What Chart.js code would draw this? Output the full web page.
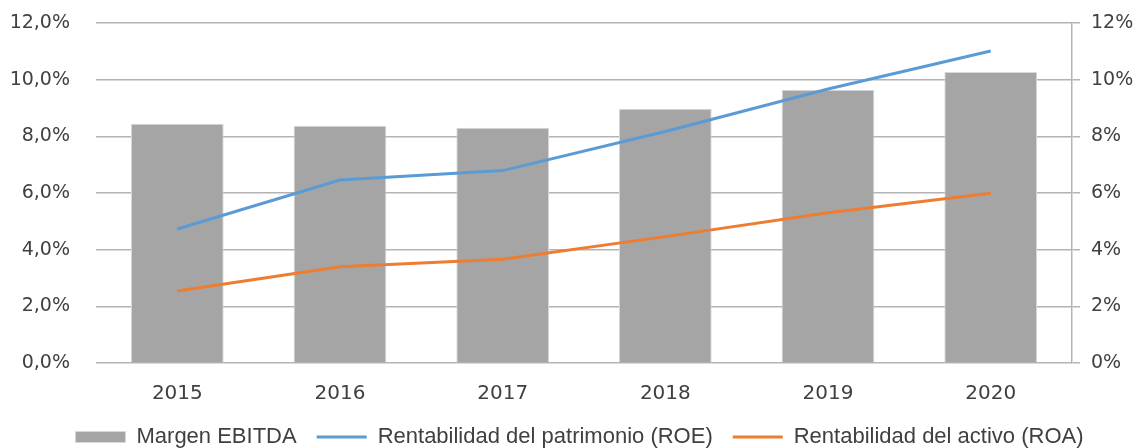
<!DOCTYPE html>
<html>
<head>
<meta charset="utf-8">
<script src="https://cdn.jsdelivr.net/npm/chart.js@4"></script>
<style>
  html, body { margin: 0; padding: 0; background: #fff; }
  #wrap { width: 1141px; height: 448px; }
</style>
</head>
<body>
<div id="wrap"><canvas id="finChart"></canvas></div>
<script>
// datos (en %)
const years = ['2015', '2016', '2017', '2018', '2019', '2020'];
const margenEbitda = [8.44, 8.37, 8.30, 8.97, 9.64, 10.27];
const roe = [4.73, 6.46, 6.79, 8.17, 9.67, 11.01];
const roa = [2.54, 3.40, 3.66, 4.46, 5.30, 5.99];
const leftTicks = [0, 2, 4, 6, 8, 10, 12];

const txt = '#404040';
const gridGray = '#b3b3b3';
const tickFont = 'DejaVu Sans';

const ctx = document.getElementById('finChart');
new Chart(ctx, {
    data: {
        labels: years,
        datasets: [
            {
                type: 'bar',
                label: 'Margen EBITDA',
                data: margenEbitda,
                backgroundColor: '#a5a5a5',
                borderColor: '#d9d9d9',
                borderWidth: 1,
                pointStyle: 'rect',
                barPercentage: 0.57,
                categoryPercentage: 1,
                yAxisID: 'y',
                order: 3
            },
            {
                type: 'line',
                label: 'Rentabilidad del patrimonio (ROE)',
                data: roe,
                borderColor: '#5b9bd5',
                backgroundColor: '#5b9bd5',
                borderWidth: 3,
                pointRadius: 0,
                pointStyle: 'line',
                tension: 0,
                yAxisID: 'y',
                order: 1
            },
            {
                type: 'line',
                label: 'Rentabilidad del activo (ROA)',
                data: roa,
                borderColor: '#ed7d31',
                backgroundColor: '#ed7d31',
                borderWidth: 3,
                pointRadius: 0,
                pointStyle: 'line',
                tension: 0,
                yAxisID: 'y',
                order: 2
            }
        ]
    },
    options: {
        responsive: true,
        maintainAspectRatio: false,
        animation: false,
        layout: {
            // negative right padding just recentres the legend; y2 width compensates
            padding: { top: 23, left: 0, right: -18, bottom: -10 }
        },
        scales: {
            x: {
                grid: { display: false },
                border: { display: false },
                ticks: {
                    color: txt,
                    padding: 11,
                    font: { family: tickFont, size: 20 }
                },
                afterFit: (s) => { s.height = 43; }
            },
            y: {
                position: 'left',
                min: 0,
                max: 12,
                afterBuildTicks: (s) => { s.ticks = leftTicks.map(v => ({ value: v })); },
                grid: {
                    color: gridGray,
                    lineWidth: 1.5,
                    tickColor: 'rgba(0,0,0,0)',
                    tickLength: 26
                },
                border: { display: false },
                ticks: {
                    color: txt,
                    padding: 0,
                    font: { family: tickFont, size: 19 },
                    callback: (v) => v.toFixed(1).replace('.', ',') + '%'
                },
                afterFit: (s) => { s.width = 96; }
            },
            y2: {
                position: 'right',
                min: 0,
                max: 12,
                afterBuildTicks: (s) => { s.ticks = leftTicks.map(v => ({ value: v })); },
                grid: {
                    drawOnChartArea: false,
                    color: gridGray,
                    lineWidth: 1.5,
                    tickLength: 8
                },
                border: { display: true, color: gridGray, width: 1.5 },
                ticks: {
                    color: txt,
                    padding: 11,
                    font: { family: tickFont, size: 19 },
                    callback: (v) => v + '%'
                },
                afterFit: (s) => { s.width = 1141 + 18 - 1072; }
            }
        },
        plugins: {
            legend: {
                position: 'bottom',
                labels: {
                    color: txt,
                    usePointStyle: true,
                    pointStyleWidth: 50,
                    boxHeight: 11,
                    padding: 20,
                    sort: (a, b) => a.datasetIndex - b.datasetIndex,
                    font: { family: 'Liberation Sans', size: 22 }
                }
            },
            tooltip: { enabled: false }
        }
    }
});
</script>
</body>
</html>
